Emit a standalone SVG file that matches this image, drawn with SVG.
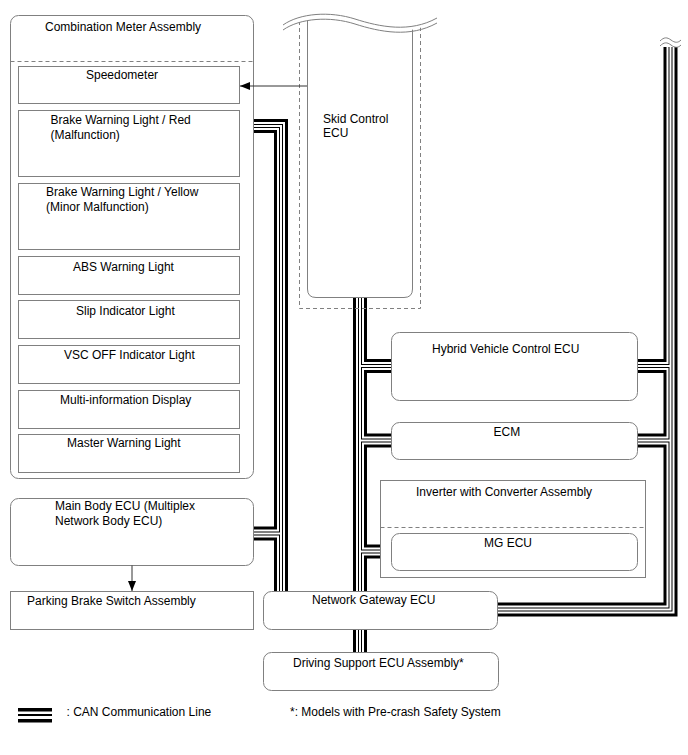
<svg xmlns="http://www.w3.org/2000/svg" xmlns:xlink="http://www.w3.org/1999/xlink" width="688" height="755" viewBox="0 0 688 755">
<style>
text{font-family:"Liberation Sans",Arial,sans-serif;font-size:12px;fill:#000}
.box{fill:#fff;stroke:#808080;stroke-width:1}
.dash{fill:none;stroke:#808080;stroke-width:1;stroke-dasharray:4,3}
.c1{fill:none;stroke:#000;stroke-width:14;stroke-linejoin:miter;stroke-linecap:butt}
.c2{fill:none;stroke:#fff;stroke-width:8;stroke-linejoin:miter;stroke-linecap:butt}
.c3{fill:none;stroke:#000;stroke-width:4;stroke-linejoin:miter;stroke-linecap:butt}
.c4{fill:none;stroke:#fff;stroke-width:2;stroke-linejoin:miter;stroke-linecap:butt}
.arr{fill:none;stroke:#333;stroke-width:1}
.wave{fill:none;stroke:#808080;stroke-width:1}
</style>
<defs>
<marker id="ah" markerWidth="10" markerHeight="8" refX="10" refY="4" orient="auto" markerUnits="userSpaceOnUse">
<path d="M0,0 L10,4 L0,8 Z" fill="#000"/>
</marker>
<g id="canpaths">
<path d="M253 126 H281 V591"/>
<path d="M253 533.5 H281"/>
<path d="M360 298 V652"/>
<path d="M360 366 H392"/>
<path d="M360 440.5 H392"/>
<path d="M360 551.5 H392"/>
<path d="M670.5 47 V609.5 H497"/>
<path d="M637 366 H670.5"/>
<path d="M637 440.5 H670.5"/>
</g>
</defs>

<g id="connectors">
<use xlink:href="#canpaths" class="c1"/>
<use xlink:href="#canpaths" class="c2"/>
<use xlink:href="#canpaths" class="c3"/>
<use xlink:href="#canpaths" class="c4"/>
</g>

<g id="can-break">
<path d="M658 0 H684 V45 C680 42,676 40,671 43 C666 46,663 46,660 44 Z" fill="#fff"/>
<path d="M660 41 C664 37,667 37,671 40 C675 43,678 43,681 40" class="wave"/>
<path d="M660 46 C664 42,667 42,671 45 C675 48,678 48,681 45" class="wave"/>
</g>

<g id="combination-meter">
<rect x="10.5" y="15.5" width="243" height="463" rx="8" class="box"/>
<text x="45" y="31">Combination Meter Assembly</text>
<path d="M10.5 61.5 H253.5" class="dash"/>
</g>
<g id="speedometer">
<rect x="18.5" y="66.5" width="221" height="37" class="box"/>
<text x="86" y="79">Speedometer</text>
</g>
<g id="brake-red">
<rect x="18.5" y="110.5" width="221" height="66" class="box"/>
<text x="50.5" y="124">Brake Warning Light / Red</text>
<text x="50.5" y="138.5">(Malfunction)</text>
</g>
<g id="brake-yellow">
<rect x="18.5" y="183.5" width="221" height="66" class="box"/>
<text x="46" y="196">Brake Warning Light / Yellow</text>
<text x="46" y="211">(Minor Malfunction)</text>
</g>
<g id="abs">
<rect x="18.5" y="256.5" width="221" height="38" class="box"/>
<text x="73" y="271">ABS Warning Light</text>
</g>
<g id="slip">
<rect x="18.5" y="300.5" width="221" height="38" class="box"/>
<text x="76" y="315">Slip Indicator Light</text>
</g>
<g id="vsc">
<rect x="18.5" y="345.5" width="221" height="38" class="box"/>
<text x="64" y="359">VSC OFF Indicator Light</text>
</g>
<g id="multi">
<rect x="18.5" y="390.5" width="221" height="38" class="box"/>
<text x="60" y="404">Multi-information Display</text>
</g>
<g id="master">
<rect x="18.5" y="434.5" width="221" height="38" class="box"/>
<text x="67" y="447">Master Warning Light</text>
</g>

<g id="main-body-ecu">
<rect x="10.5" y="498.5" width="243" height="67" rx="8" class="box"/>
<text x="55" y="510">Main Body ECU (Multiplex</text>
<text x="55" y="525">Network Body ECU)</text>
</g>
<g id="parking-brake">
<rect x="10.5" y="591.5" width="243" height="38" class="box"/>
<text x="27" y="605">Parking Brake Switch Assembly</text>
</g>

<g id="skid-control-ecu">
<path d="M299.5 0 V308.5 H420.5 V0" class="dash"/>
<path d="M307.5 0 V289 Q307.5 297.5 316 297.5 H404 Q412.5 297.5 412.5 289 V0" class="box"/>
<path d="M280 0 H440 V20 C410 36,380 32,355 24 C330 16,300 18,283 30 Z" fill="#fff"/>
<path d="M283 25 C300 13,330 11,355 19 C380 27,410 33,437 18" class="wave"/>
<path d="M283 30 C300 18,330 16,355 24 C380 32,410 38,437 23" class="wave"/>
<text x="323" y="122.5">Skid Control</text>
<text x="323" y="136.5">ECU</text>
</g>

<g id="hybrid-ecu">
<rect x="391.5" y="332.5" width="246" height="68" rx="8" class="box"/>
<text x="432" y="353">Hybrid Vehicle Control ECU</text>
</g>
<g id="ecm">
<rect x="391.5" y="422.5" width="246" height="37" rx="8" class="box"/>
<text x="493.5" y="436">ECM</text>
</g>
<g id="inverter">
<rect x="380.5" y="480.5" width="265" height="97" class="box"/>
<text x="416" y="496">Inverter with Converter Assembly</text>
<path d="M380.5 527.5 H645.5" class="dash"/>
</g>
<g id="mg-ecu">
<rect x="391.5" y="533.5" width="246" height="37" rx="8" class="box"/>
<text x="484" y="547">MG ECU</text>
</g>
<g id="network-gateway">
<rect x="263.5" y="591.5" width="234" height="38" rx="8" class="box"/>
<text x="312" y="604">Network Gateway ECU</text>
</g>
<g id="driving-support">
<rect x="263.5" y="652.5" width="235" height="38" rx="8" class="box"/>
<text x="293" y="666.5">Driving Support ECU Assembly*</text>
</g>

<g id="arrows">
<path d="M307 86 H240" class="arr" marker-end="url(#ah)"/>
<path d="M132 565.5 V591" class="arr" marker-end="url(#ah)"/>
</g>

<g id="legend">
<rect x="18" y="708" width="34" height="3.5" fill="#000"/>
<rect x="18" y="714" width="34" height="2" fill="#000"/>
<rect x="18" y="719" width="34" height="3.5" fill="#000"/>
<text x="66.5" y="716">: CAN Communication Line</text>
<text x="290" y="716">*: Models with Pre-crash Safety System</text>
</g>
</svg>
